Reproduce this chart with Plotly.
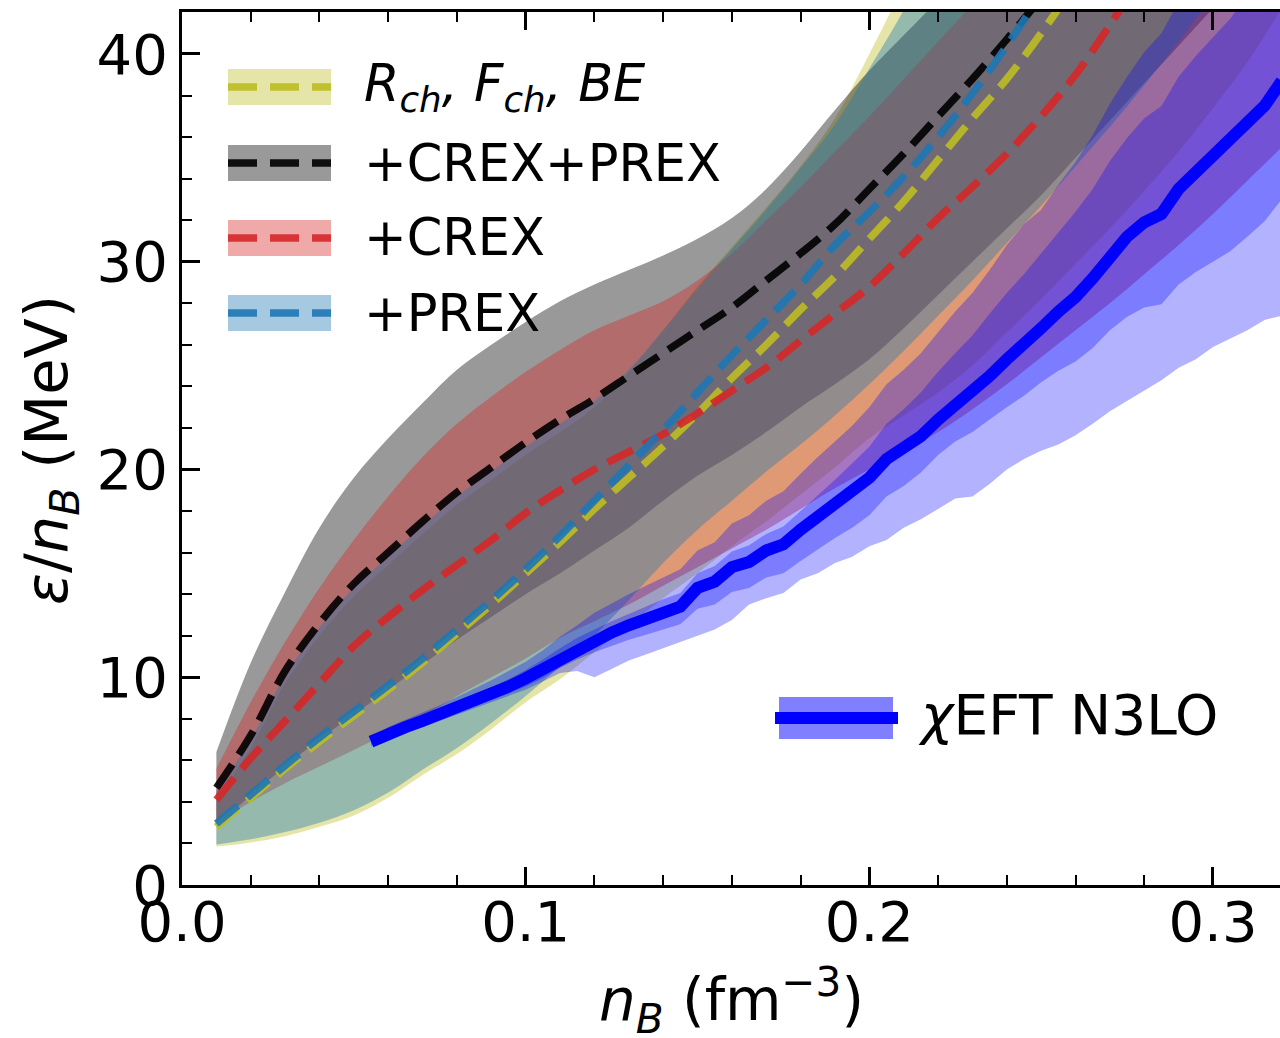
import plotly.graph_objects as go

# ---------------------------------------------------------------------------
# Energy per baryon of pure neutron matter: RMF posteriors vs chiral EFT
# ---------------------------------------------------------------------------

# baryon density grid of the RMF posteriors (fm^-3)
n_rmf = [0.01, 0.02, 0.03, 0.04, 0.05, 0.06, 0.07, 0.08, 0.09, 0.10,
         0.11, 0.12, 0.13, 0.14, 0.15, 0.16, 0.17, 0.18, 0.19, 0.20,
         0.21, 0.22, 0.23, 0.24, 0.25, 0.26, 0.27, 0.28, 0.29, 0.30,
         0.31, 0.32]

# R_ch, F_ch, BE
base_mid = [2.8, 4.2, 5.6, 6.9, 8.15, 9.4, 10.7, 12.1, 13.5, 15.0, 16.5, 18.1, 19.6, 21.1,
            22.7, 24.4, 26.0, 27.7, 29.3, 31.1, 32.9, 34.9, 36.9, 38.8, 41.0, 43.4, 46.0,
            48.8, 51.8, 55.0, 58.4, 62.0]
base_lo = [1.85, 2.05, 2.35, 2.8, 3.35, 4.2, 5.3, 6.3, 7.5, 8.8, 9.9, 11.2, 12.5, 13.8,
           15.0, 16.3, 17.5, 18.8, 20.1, 21.5, 22.6, 23.7, 25.0, 26.6, 28.2, 29.9, 31.6,
           33.4, 35.3, 37.4, 39.6, 42.2]
base_hi = [4.1, 6.6, 9.7, 12.0, 13.9, 15.4, 16.9, 18.3, 19.5, 20.7, 21.8, 23.0, 24.7, 26.7,
           28.8, 30.7, 32.6, 34.6, 36.9, 40.0, 43.3, 46.8, 50.5, 54.4, 58.5, 62.8, 67.3,
           72.0, 76.9, 82.0, 87.3, 92.8]

# +CREX+PREX
both_mid = [4.67, 7.2, 10.3, 12.6, 14.5, 16.0, 17.5, 18.9, 20.1, 21.3, 22.4, 23.4, 24.5,
            25.6, 26.7, 27.8, 29.1, 30.4, 31.8, 33.5, 35.2, 37.0, 38.8, 40.7, 42.7, 44.8,
            47.0, 49.3, 51.7, 54.2, 56.8, 59.5]
both_lo = [2.9, 4.3, 5.7, 7.0, 8.2, 9.4, 10.6, 11.8, 12.9, 14.0, 15.0, 16.1, 17.2, 18.5,
           19.7, 20.7, 21.8, 23.0, 24.1, 25.3, 26.8, 28.4, 30.0, 31.6, 33.2, 35.0, 36.8,
           38.6, 40.4, 42.2, 44.0, 45.8]
both_hi = [6.4, 10.7, 14.1, 17.2, 19.6, 21.5, 23.2, 24.8, 26.0, 27.1, 28.1, 28.9, 29.6,
           30.3, 31.1, 32.1, 33.5, 35.3, 37.3, 39.2, 40.9, 42.6, 44.4, 46.3, 48.3, 50.4,
           52.6, 54.9, 57.3, 59.8, 62.4, 65.1]

# +CREX
crex_mid = [4.1, 6.1, 7.9, 9.7, 11.5, 12.9, 14.2, 15.4, 16.6, 17.9, 19.0, 20.0, 20.85,
            21.7, 22.7, 23.8, 24.9, 26.2, 27.5, 28.8, 30.4, 32.1, 33.6, 35.2, 37.0, 39.0,
            41.4, 44.0, 46.7, 49.5, 52.4, 55.4]
crex_lo = [3.0, 4.0, 4.9, 5.7, 6.5, 7.3, 8.1, 9.1, 10.0, 10.9, 11.9, 12.7, 13.5, 14.4,
           15.3, 16.2, 17.1, 18.1, 19.1, 20.0, 20.9, 21.8, 22.9, 24.1, 25.4, 26.7, 28.0,
           29.4, 30.8, 32.3, 33.9, 35.5]
crex_hi = [5.6, 8.8, 11.7, 14.3, 16.6, 18.7, 20.6, 22.2, 23.5, 24.7, 25.75, 26.7, 27.4,
           28.1, 29.1, 30.4, 32.0, 33.6, 35.3, 37.0, 38.8, 40.6, 42.4, 44.3, 46.3, 48.4,
           50.6, 52.9, 55.3, 57.8, 60.4, 63.1]

# +PREX
prex_mid = [2.95, 4.35, 5.75, 7.1, 8.35, 9.6, 10.9, 12.3, 13.7, 15.2, 16.8, 18.5, 20.2,
            21.9, 23.7, 25.5, 27.2, 28.9, 30.8, 32.4, 34.1, 36.0, 38.1, 40.4, 42.9, 45.6,
            48.5, 51.6, 54.9, 58.4, 62.1, 66.0]
prex_lo = [1.95, 2.2, 2.55, 3.0, 3.6, 4.45, 5.55, 6.6, 7.8, 9.1, 10.5, 12.0, 13.7, 15.5,
           17.1, 18.5, 19.9, 21.2, 22.6, 24.1, 25.7, 27.4, 29.1, 30.9, 32.7, 34.6, 36.5,
           38.5, 40.6, 42.8, 45.0, 47.3]
prex_hi = [4.5, 7.0, 10.1, 12.4, 14.3, 15.8, 17.3, 18.7, 19.9, 21.1, 22.2, 23.3, 24.8,
           26.7, 28.7, 30.6, 32.5, 34.5, 36.6, 39.3, 42.1, 45.2, 48.6, 52.2, 56.0, 60.0,
           64.2, 68.6, 73.2, 78.0, 83.0, 88.2]

# chiral EFT N3LO band
n_eft = [0.055, 0.060, 0.065, 0.070, 0.075, 0.080, 0.085, 0.090, 0.095, 0.100,
         0.105, 0.110, 0.115, 0.120, 0.125, 0.130, 0.135, 0.140, 0.145, 0.150,
         0.155, 0.160, 0.165, 0.170, 0.175, 0.180, 0.185, 0.190, 0.195, 0.200,
         0.205, 0.210, 0.215, 0.220, 0.225, 0.230, 0.235, 0.240, 0.245, 0.250,
         0.255, 0.260, 0.265, 0.270, 0.275, 0.280, 0.285, 0.290, 0.295, 0.300,
         0.305, 0.310, 0.315, 0.320]
eft_mid = [6.9, 7.3, 7.6, 7.9, 8.2, 8.55, 8.85, 9.2, 9.55, 9.95, 10.4, 10.95, 11.4, 11.8,
           12.15, 12.5, 12.8, 13.1, 13.4, 14.3, 14.6, 15.3, 15.55, 16.1, 16.4, 17.1, 17.7,
           18.3, 18.9, 19.6, 20.5, 21.0, 21.6, 22.4, 23.1, 23.7, 24.5, 25.3, 26.0, 26.8,
           27.6, 28.3, 29.2, 30.3, 31.2, 31.9, 32.3, 33.5, 34.3, 35.0, 35.7, 36.6, 37.5, 38.7]
eft_outer_lo = [6.7, 7.0, 7.3, 7.6, 7.9, 8.2, 8.5, 8.8, 9.1, 9.4, 9.8, 10.2, 10.3, 10.0,
                10.4, 10.8, 11.1, 11.4, 11.7, 12.0, 12.3, 12.75, 13.5, 13.8, 14.05, 14.7,
                15.0, 15.5, 15.8, 16.3, 16.6, 17.2, 17.6, 18.1, 18.6, 18.7, 19.3, 20.0,
                20.5, 20.9, 21.2, 21.65, 22.2, 22.8, 23.3, 23.8, 24.3, 24.9, 25.3, 25.9,
                26.3, 26.7, 27.2, 27.4]
eft_outer_hi = [7.1, 7.6, 7.95, 8.3, 8.65, 9.05, 9.45, 9.85, 10.3, 10.75, 11.3, 11.95,
                12.5, 13.1, 13.55, 14.0, 14.4, 14.8, 15.2, 16.1, 16.5, 17.4, 17.8, 18.5,
                18.95, 19.8, 20.6, 21.35, 22.1, 23.0, 24.1, 24.8, 25.6, 26.6, 27.6, 28.5,
                29.6, 30.8, 31.8, 32.5, 33.7, 34.8, 36.1, 37.6, 38.9, 40.1, 41.0, 42.5,
                43.6, 44.6, 45.6, 46.8, 48.0, 49.2]
eft_inner_lo = [6.8, 7.2, 7.45, 7.75, 8.0, 8.3, 8.6, 8.9, 9.2, 9.55, 9.95, 10.45, 10.85,
                11.2, 11.5, 11.8, 12.05, 12.3, 12.55, 13.3, 13.5, 14.1, 14.3, 14.8, 15.0,
                15.6, 16.15, 16.7, 17.2, 17.8, 18.7, 19.2, 19.85, 20.7, 21.35, 21.8, 22.4,
                23.0, 23.55, 24.2, 24.75, 25.2, 25.85, 26.7, 27.35, 27.8, 27.95, 28.9,
                29.5, 30.0, 30.5, 31.2, 31.95, 33.0]
eft_inner_hi = [7.0, 7.4, 7.75, 8.05, 8.4, 8.75, 9.1, 9.5, 9.9, 10.35, 10.85, 11.4, 11.9,
                12.3, 12.7, 13.05, 13.4, 13.75, 14.05, 15.0, 15.35, 16.05, 16.35, 16.9,
                17.25, 18.0, 18.75, 19.5, 20.3, 21.1, 22.2, 22.9, 23.7, 24.7, 25.6, 26.45,
                27.5, 28.5, 29.4, 30.4, 31.4, 32.4, 33.5, 34.85, 35.95, 36.9, 37.5, 38.9,
                39.9, 40.8, 41.7, 42.8, 43.9, 45.3]

# axis ticks
x_ticks = [0.0, 0.1, 0.2, 0.3]
x_ticktext = ["0.0", "0.1", "0.2", "0.3"]
y_ticks = [0, 10, 20, 30, 40]

legend_labels = ["<i>R</i><sub><i>ch</i></sub><i>, F</i><sub><i>ch</i></sub><i>, BE</i>",
                 "+CREX+PREX", "+CREX", "+PREX"]
eft_label = "<i>χ</i>EFT N3LO"

# ---------------------------------------------------------------------------
FONT = "DejaVu Sans"
OLIVE, BLACK, RED, BLUE = (188, 189, 34), (0, 0, 0), (214, 39, 40), (31, 119, 180)


def rgba(c, a):
    return "rgba(%d,%d,%d,%.2f)" % (c[0], c[1], c[2], a)


def add_band(fig, x, lo, hi, color, shape):
    """Lower edge (invisible) followed by the upper edge filled down to it."""
    fig.add_trace(go.Scatter(x=x, y=lo, mode="lines", hoverinfo="skip",
                             line=dict(width=0, shape=shape), showlegend=False))
    fig.add_trace(go.Scatter(x=x, y=hi, mode="lines", hoverinfo="skip",
                             line=dict(width=0, shape=shape), fill="tonexty",
                             fillcolor=color, showlegend=False))


fig = go.Figure()

models = [
    ("R_ch, F_ch, BE", base_lo, base_hi, base_mid, OLIVE),
    ("+CREX+PREX", both_lo, both_hi, both_mid, BLACK),
    ("+CREX", crex_lo, crex_hi, crex_mid, RED),
    ("+PREX", prex_lo, prex_hi, prex_mid, BLUE),
]

for name, lo, hi, mid, col in models:
    add_band(fig, n_rmf, lo, hi, rgba(col, 0.4), "spline")

DASH = "28px,12px"
for name, lo, hi, mid, col in models:
    fig.add_trace(go.Scatter(x=n_rmf, y=mid, mode="lines", name=name,
                             line=dict(color=rgba(col, 0.9), width=7.5, dash=DASH,
                                       shape="spline"),
                             showlegend=False))

# chiral EFT: outer and inner uncertainty bands plus the central curve
add_band(fig, n_eft, eft_outer_lo, eft_outer_hi, "rgba(0,0,255,0.30)", "linear")
add_band(fig, n_eft, eft_inner_lo, eft_inner_hi, "rgba(0,0,255,0.30)", "linear")
fig.add_trace(go.Scatter(x=n_eft, y=eft_mid, mode="lines", name="χEFT N3LO",
                         line=dict(color="rgb(0,0,255)", width=12), showlegend=False))

# ---------------------------------------------------------------------------
W, H = 1280, 1038
L, R, T, B = 182, 0, 12, 153
PW, PH = W - L - R, H - T - B


def px(x):
    return (x - L) / PW


def py(y):
    return (H - B - y) / PH


shapes = []
annotations = []

# hand-drawn legend with band patches and dashed sample lines
row_y = [87, 163, 238, 313]
text_x = [362, 362, 362, 362]
for (name, lo, hi, mid, col), yc, tx, lab in zip(models, row_y, text_x, legend_labels):
    shapes.append(dict(type="rect", xref="paper", yref="paper",
                       x0=px(228), x1=px(331), y0=py(yc + 18), y1=py(yc - 18),
                       fillcolor=rgba(col, 0.4), line=dict(width=0)))
    shapes.append(dict(type="line", xref="paper", yref="paper",
                       x0=px(228), x1=px(331), y0=py(yc), y1=py(yc),
                       line=dict(color=rgba(col, 0.9), width=7.5, dash="29px,13px")))
    annotations.append(dict(text=lab, xref="paper", yref="paper", x=px(tx), y=py(yc),
                            xanchor="left", yanchor="middle", showarrow=False,
                            font=dict(family=FONT, size=51, color="black")))

shapes.append(dict(type="rect", xref="paper", yref="paper",
                   x0=px(779), x1=px(893), y0=py(739), y1=py(697),
                   fillcolor="rgba(0,0,255,0.5)", line=dict(width=0)))
shapes.append(dict(type="line", xref="paper", yref="paper",
                   x0=px(775), x1=px(898), y0=py(718), y1=py(718),
                   line=dict(color="rgb(0,0,255)", width=12)))
annotations.append(dict(text=eft_label, xref="paper", yref="paper", x=px(916), y=py(715),
                        xanchor="left", yanchor="middle", showarrow=False,
                        font=dict(family=FONT, size=55, color="black")))

# axis titles
annotations.append(dict(text="<i>n</i><sub><i>B</i></sub> (fm<sup>−3</sup>)",
                        xref="paper", yref="paper", x=px(731), y=py(1000),
                        xanchor="center", yanchor="middle", showarrow=False,
                        font=dict(family=FONT, size=58, color="black")))
annotations.append(dict(text="<i>ε</i>/<i>n</i><sub><i>B</i></sub> (MeV)",
                        xref="paper", yref="paper", x=px(50), y=py(450),
                        xanchor="center", yanchor="middle", textangle=-90, showarrow=False,
                        font=dict(family=FONT, size=59, color="black")))

axis_common = dict(showgrid=False, zeroline=False, ticks="inside", ticklen=18,
                   tickwidth=2.5, tickcolor="black", linecolor="black", linewidth=3,
                   tickfont=dict(family=FONT, size=56, color="black"))

fig.update_layout(
    width=W, height=H,
    margin=dict(l=L, r=R, t=T, b=B, pad=0),
    paper_bgcolor="white", plot_bgcolor="white",
    showlegend=False,
    shapes=shapes, annotations=annotations,
    xaxis=dict(range=[0, 0.3195], tickvals=x_ticks, ticktext=x_ticktext,
               showline=True, mirror="ticks", ticklabelstandoff=-14,
               minor=dict(ticks="inside", ticklen=10, tickwidth=2, tickcolor="black",
                          dtick=0.02, tick0=0, showgrid=False),
               **axis_common),
    yaxis=dict(range=[0, 42.02], tickvals=y_ticks, showline=True, mirror=False,
               minor=dict(ticks="inside", ticklen=10, tickwidth=2, tickcolor="black",
                          dtick=2, tick0=0, showgrid=False),
               **axis_common),
    yaxis2=dict(range=[0, 42.02], overlaying="y", side="right", anchor="x",
                tickvals=y_ticks, showticklabels=False, showline=False,
                showgrid=False, zeroline=False, ticks="inside", ticklen=18,
                tickwidth=2.5, tickcolor="black",
                minor=dict(ticks="inside", ticklen=10, tickwidth=2, tickcolor="black",
                           dtick=2, tick0=0, showgrid=False)),
)

fig.write_html("out.html")
